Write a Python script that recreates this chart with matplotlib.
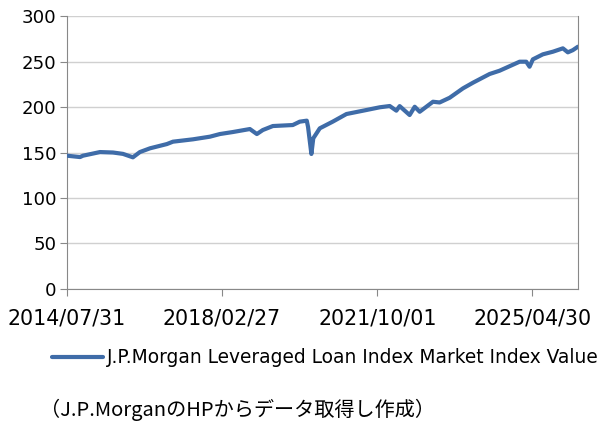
import matplotlib
matplotlib.use("Agg")
import matplotlib.pyplot as plt
import numpy as np

plt.rcParams['font.family'] = ['DejaVu Sans', 'Noto Sans CJK JP']

# index value
dates = [
    "2014-07-31", "2014-11-18", "2014-12-13", "2015-05-05", "2015-08-23",
    "2015-11-15", "2016-02-07", "2016-04-06", "2016-06-30", "2016-11-20",
    "2017-01-10", "2017-06-28", "2017-11-18", "2018-02-10", "2018-05-30",
    "2018-10-21", "2018-12-19", "2019-02-07", "2019-05-03", "2019-10-18",
    "2019-12-16", "2020-02-13", "2020-02-24", "2020-03-23", "2020-04-08",
    "2020-06-02", "2020-09-19", "2021-01-13", "2021-06-30", "2021-10-21",
    "2022-01-13", "2022-03-10", "2022-04-07", "2022-06-30", "2022-08-12",
    "2022-09-23", "2023-01-13", "2023-03-10", "2023-06-03", "2023-09-23",
    "2023-12-16", "2024-05-05", "2024-07-28", "2025-01-13", "2025-03-10",
    "2025-04-07", "2025-05-05", "2025-07-28", "2025-10-21", "2026-01-13",
    "2026-02-24", "2026-04-07", "2026-05-20",
]
values = [
    146.5, 145.0, 146.5, 150.5, 150.0,
    148.5, 144.7, 150.5, 154.6, 159.3,
    161.9, 164.5, 167.4, 170.3, 172.5,
    175.8, 170.3, 174.7, 179.1, 180.2,
    183.9, 185.0, 178.0, 148.4, 165.6,
    176.6, 183.9, 192.3, 196.7, 199.7,
    201.1, 196.0, 201.0, 191.2, 200.3,
    194.8, 205.8, 205.0, 210.2, 220.5,
    226.7, 236.3, 239.9, 249.8, 249.8,
    244.3, 252.4, 257.9, 260.8, 264.5,
    260.1, 262.5, 266.3,
]
tick_dates = ["2014-07-31", "2018-02-27", "2021-10-01", "2025-04-30"]
tick_labels = ["2014/07/31", "2018/02/27", "2021/10/01", "2025/04/30"]
series_name = "J.P.Morgan Leveraged Loan Index Market Index Value"
source_note = "（J.P.MorganのHPからデータ取得し作成）"

x = np.array(dates, dtype="datetime64[D]")
fig = plt.figure(figsize=(6.02, 4.22), dpi=100)
ax = fig.add_axes([0.1113, 0.3152, 0.8487, 0.6468])

ax.plot(x, values, color="#3f6ca8", lw=3.0, solid_capstyle="round",
        solid_joinstyle="round", label=series_name, zorder=3)

ax.set_ylim(0, 300)
ax.set_yticks(range(0, 301, 50))
ax.set_xlim(x[0], x[-1])
ax.set_xticks(np.array(tick_dates, dtype="datetime64[D]"))
ax.set_xticklabels(tick_labels)

ax.grid(axis="y", color="#d0d0d0", lw=1)
ax.set_axisbelow(True)
for side in ["left", "bottom", "right"]:
    ax.spines[side].set_color("#888888")
ax.spines["top"].set_visible(False)
ax.tick_params(axis="both", colors="#888888", labelcolor="black",
               length=5, direction="out")
ax.tick_params(axis="x", labelsize=14.8, pad=9)
ax.tick_params(axis="y", labelsize=13.1, pad=2.5)

fig.legend(loc="center left", bbox_to_anchor=(0.074, 0.152), frameon=False,
           borderaxespad=0, handlelength=2.74, handletextpad=0.2, fontsize=13.4)
fig.text(0.0665, 0.028, source_note, fontsize=14.5, ha="left", va="center",
         family=['Noto Sans CJK JP', 'DejaVu Sans'])

fig.savefig("out.png", dpi=100)
